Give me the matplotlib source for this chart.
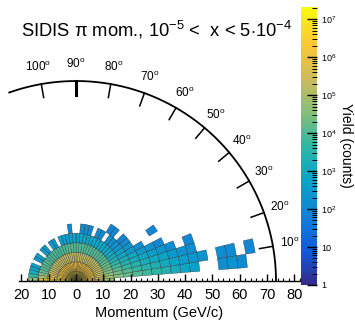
import numpy as np
import matplotlib
matplotlib.use("Agg")
import matplotlib.pyplot as plt
from matplotlib.colors import LinearSegmentedColormap, LogNorm
from matplotlib.collections import PolyCollection
from matplotlib.ticker import MultipleLocator, FuncFormatter, LogLocator

plt.rcParams['font.family'] = ['Liberation Sans', 'DejaVu Sans']
plt.rcParams['mathtext.fontset'] = 'custom'
plt.rcParams['mathtext.rm'] = 'Liberation Sans'
plt.rcParams['mathtext.it'] = 'Liberation Sans:italic'

# binning: momentum (GeV/c) and polar angle (deg)
p_edges = np.arange(0, 70.01, 3.5)
theta_edges = np.arange(0, 180.01, 4.5)

# log10(yield) per momentum bin, one row per polar-angle bin starting at 0 deg; 0 = empty bin
log_yield = [
    [7.0, 6.4, 5.6, 4.8],
    [6.9, 6.2, 5.5, 4.9, 4.5, 4.2, 4.0, 3.8, 3.6, 3.4, 3.1, 2.9, 2.7, 0, 0, 2.2, 2.3, 2.1],
    [7.0, 6.2, 5.4, 4.7, 4.3, 4.0, 3.7, 3.5, 3.3, 3.1, 2.8, 2.6, 2.4, 2.3, 0, 2.2, 2.1, 0, 2.0],
    [7.0, 6.2, 5.3, 4.5, 4.1, 3.7, 3.4, 3.2, 3.0, 2.8, 2.5, 2.3, 2.2],
    [7.0, 6.3, 5.3, 4.4, 3.8, 3.4, 3.1, 2.9, 2.6, 2.4, 2.2, 0, 2.0],
    [7.0, 6.3, 5.3, 4.3, 3.6, 3.2, 2.9, 2.5, 2.3, 2.0],
    [7.0, 6.4, 5.3, 4.2, 3.3, 2.9, 2.5, 2.2],
    [7.0, 6.4, 5.3, 4.1, 3.1, 2.7, 2.3, 0, 0, 2.0],
    [7.0, 6.4, 5.3, 4.0, 3.0, 2.4, 2.1],
    [7.0, 6.4, 5.3, 4.0, 2.9, 2.3, 2.0],
    [7.0, 6.4, 5.3, 4.0, 2.9, 2.2],
    [7.0, 6.4, 5.3, 4.0, 2.9, 2.2, 2.0],
    [7.0, 6.4, 5.3, 4.0, 2.8, 0, 1.9],
    [7.0, 6.4, 5.3, 4.0, 2.8, 2.1],
    [7.0, 6.4, 5.3, 4.0, 2.8, 2.1],
    [7.0, 6.4, 5.3, 4.0, 2.8],
    [7.0, 6.4, 5.3, 4.0, 2.8, 2.0],
    [7.0, 6.4, 5.3, 4.0, 2.8, 2.1],
    [7.0, 6.4, 5.3, 4.0, 2.8, 2.1],
    [7.0, 6.4, 5.3, 4.0, 2.7],
    [7.0, 6.4, 5.3, 4.0, 2.7],
    [7.0, 6.4, 5.3, 4.0, 2.7, 2.0],
    [7.0, 6.4, 5.3, 4.0, 2.6],
    [7.0, 6.4, 5.3, 4.0, 2.6],
    [7.0, 6.4, 5.3, 3.9, 2.6],
    [7.0, 6.4, 5.3, 3.9],
    [7.0, 6.4, 5.3, 3.9, 2.4],
    [7.0, 6.4, 5.3, 3.9, 2.5],
    [7.0, 6.4, 5.3, 3.9],
    [7.0, 6.4, 5.3, 3.9, 2.4],
    [7.0, 6.4, 5.3, 3.9, 2.5],
    [7.0, 6.4, 5.3, 3.9],
    [7.0, 6.4, 5.3, 4.0, 2.6],
    [7.0, 6.4, 5.3, 4.0, 2.5],
    [7.0, 6.4, 5.3, 4.0],
    [7.0, 6.4, 5.4, 4.1, 2.6],
    [7.0, 6.5, 5.5, 4.2, 2.8],
    [7.1, 6.6, 5.7, 4.5, 3.1],
    [7.1, 6.7, 6.0, 5.0, 3.6],
    [7.2, 7.0, 6.5, 5.8, 4.6],
]

angle_ticks = [10, 20, 30, 40, 50, 60, 70, 80, 90, 100]
arc_radius = 73.3

# ROOT kBird palette
bird_stops = [0.0, 0.125, 0.25, 0.375, 0.5, 0.625, 0.75, 0.875, 1.0]
bird_r = [0.2082, 0.0592, 0.0780, 0.0232, 0.1802, 0.5301, 0.8186, 0.9956, 0.9764]
bird_g = [0.1664, 0.3599, 0.5041, 0.6419, 0.7178, 0.7492, 0.7328, 0.7862, 0.9832]
bird_b = [0.5293, 0.8684, 0.8385, 0.7914, 0.6425, 0.4662, 0.3499, 0.1968, 0.0539]
bird = LinearSegmentedColormap.from_list(
    'bird', list(zip(bird_stops, zip(bird_r, bird_g, bird_b))), N=255)


def wedge(p0, p1, t0, t1, n=6):
    """Polygon of one (momentum, angle) bin."""
    t = np.radians(np.linspace(t0, t1, n))
    inner = np.column_stack([p0 * np.cos(t), p0 * np.sin(t)])
    outer = np.column_stack([p1 * np.cos(t[::-1]), p1 * np.sin(t[::-1])])
    return np.vstack([inner, outer])


cells, values = [], []
for i, row in enumerate(log_yield):
    for j, v in enumerate(row):
        if v > 0:
            cells.append(wedge(p_edges[j], p_edges[j + 1],
                               theta_edges[i], theta_edges[i + 1]))
            values.append(10 ** v)

fig = plt.figure(figsize=(3.55, 3.29), dpi=100)
ax = fig.add_axes([19 / 355, 48 / 329, 281 / 355, 281 / 329])
cax = fig.add_axes([301 / 355, 44 / 329, 16 / 355, 278 / 329])

norm = LogNorm(vmin=1, vmax=2.1e7)
coll = PolyCollection(cells, array=np.array(values), cmap=bird, norm=norm,
                      edgecolors='#2a2a2a', linewidths=0.25)
ax.add_collection(coll)

ax.set_xlim(-20.9, 82.1)
ax.set_ylim(0, 103)
for side in ['top', 'left', 'right']:
    ax.spines[side].set_visible(False)
ax.spines['bottom'].set_linewidth(1.0)
ax.set_yticks([])
ax.xaxis.set_major_locator(MultipleLocator(10))
ax.xaxis.set_minor_locator(MultipleLocator(2))
ax.xaxis.set_major_formatter(FuncFormatter(lambda v, pos: f"{abs(v):.0f}"))
ax.tick_params(axis='x', which='major', direction='in', length=5, width=1.0,
               labelsize=10.5, pad=5)
ax.tick_params(axis='x', which='minor', direction='in', length=2.5, width=0.8)
ax.set_xlabel('Momentum (GeV/c)', fontsize=10.5, labelpad=3)

# polar frame: arc, inward ticks and angle labels
t = np.radians(np.linspace(0, 109.5, 300))
ax.plot(arc_radius * np.cos(t), arc_radius * np.sin(t), color='black',
        lw=1.3, clip_on=False)
for a in angle_ticks:
    ar = np.radians(a)
    r0, r1 = arc_radius - 5.0, arc_radius
    ax.plot([r0 * np.cos(ar), r1 * np.cos(ar)], [r0 * np.sin(ar), r1 * np.sin(ar)],
            color='black', lw=2.2 if a == 90 else 1.1, clip_on=False)
    ax.text(79.5 * np.cos(ar), 79.5 * np.sin(ar), f"{a}$^{{\\mathrm{{o}}}}$",
            ha='center', va='center', fontsize=8.5)

fig.text(21 / 355, 1 - 30 / 329,
         "SIDIS π mom., 10$^{-5}$ <  x < 5$\\cdot$10$^{-4}$",
         ha='left', va='center', fontsize=13.2)

cb = fig.colorbar(coll, cax=cax)
cb.outline.set_visible(False)
cax.yaxis.set_major_locator(LogLocator(base=10, numticks=10))
cax.yaxis.set_minor_locator(LogLocator(base=10, subs=np.arange(2, 10), numticks=10))


def decade_label(v, pos):
    e = int(round(np.log10(v)))
    if e == 0:
        return '1'
    if e == 1:
        return '10'
    return f"10$^{{{e}}}$"


cax.yaxis.set_major_formatter(FuncFormatter(decade_label))
cax.tick_params(which='major', direction='in', length=7, width=1.0,
                labelsize=6.5, pad=3)
cax.tick_params(which='minor', direction='in', length=3.5, width=0.7)
fig.text(346 / 355, 1 - 145 / 329, 'Yield (counts)', rotation=270,
         ha='center', va='center', fontsize=10)

fig.savefig('out.png', dpi=100)
